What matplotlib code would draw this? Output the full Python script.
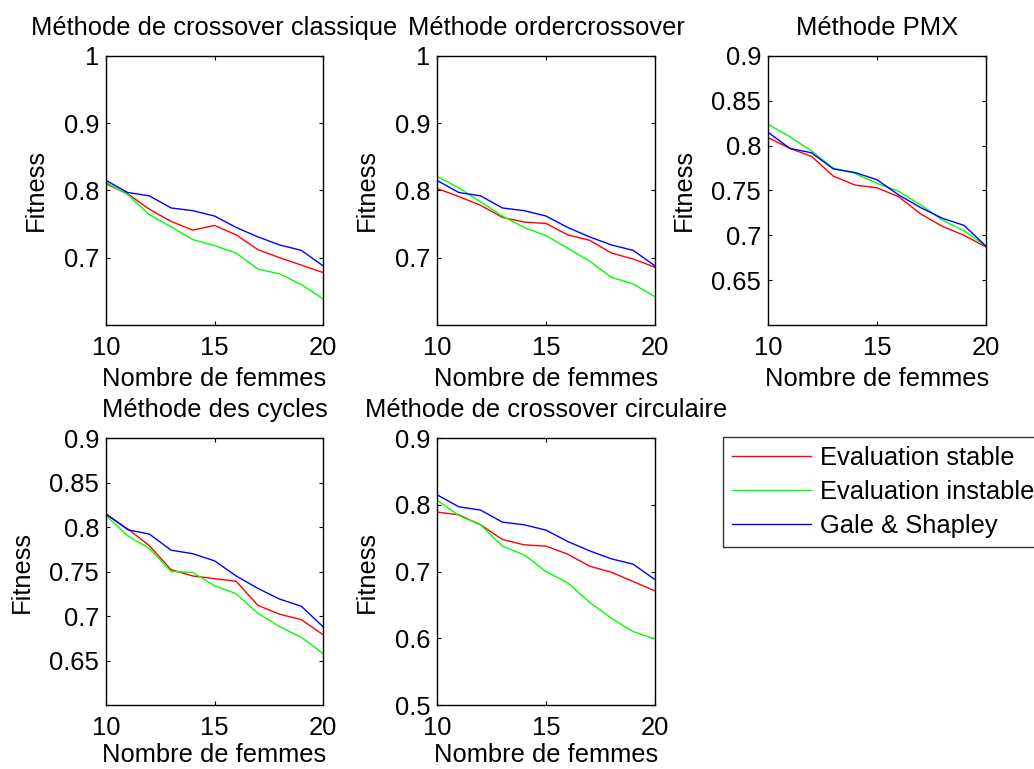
import numpy as np
import matplotlib.pyplot as plt
from matplotlib.ticker import FormatStrFormatter

plt.rcParams['font.family'] = ['Liberation Sans', 'DejaVu Sans']

# Nombre de femmes
nb_femmes = np.arange(10, 21)

# Gale & Shapley (identique pour toutes les méthodes)
gale_shapley = [0.815, 0.797, 0.792, 0.774, 0.770, 0.762, 0.745, 0.731, 0.719, 0.711, 0.688]

# Evaluation stable / instable par méthode
stable_classique = [0.810, 0.795, 0.772, 0.754, 0.741, 0.748, 0.734, 0.712, 0.700, 0.689, 0.678]
instable_classique = [0.812, 0.794, 0.764, 0.746, 0.727, 0.718, 0.707, 0.683, 0.676, 0.660, 0.639]

stable_order = [0.803, 0.791, 0.778, 0.760, 0.753, 0.751, 0.734, 0.726, 0.707, 0.698, 0.686]
instable_order = [0.821, 0.804, 0.783, 0.762, 0.745, 0.733, 0.714, 0.695, 0.671, 0.661, 0.642]

stable_pmx = [0.809, 0.797, 0.788, 0.766, 0.756, 0.753, 0.743, 0.724, 0.710, 0.700, 0.687]
instable_pmx = [0.824, 0.810, 0.794, 0.775, 0.769, 0.758, 0.749, 0.734, 0.717, 0.705, 0.688]

stable_cycles = [0.814, 0.798, 0.779, 0.752, 0.745, 0.742, 0.739, 0.712, 0.702, 0.696, 0.679]
instable_cycles = [0.813, 0.790, 0.776, 0.750, 0.749, 0.734, 0.725, 0.703, 0.688, 0.676, 0.658]

stable_circ = [0.789, 0.785, 0.770, 0.748, 0.740, 0.738, 0.726, 0.708, 0.699, 0.685, 0.671]
instable_circ = [0.807, 0.784, 0.770, 0.738, 0.725, 0.700, 0.683, 0.654, 0.630, 0.610, 0.599]

titres = ['Méthode de crossover classique', 'Méthode ordercrossover', 'Méthode PMX',
          'Méthode des cycles', 'Méthode de crossover circulaire']
stables = [stable_classique, stable_order, stable_pmx, stable_cycles, stable_circ]
instables = [instable_classique, instable_order, instable_pmx, instable_cycles, instable_circ]
ylims = [(0.6, 1.0), (0.6, 1.0), (0.6, 0.9), (0.6, 0.9), (0.5, 0.9)]
yticks = [[0.7, 0.8, 0.9, 1.0], [0.7, 0.8, 0.9, 1.0],
          [0.65, 0.7, 0.75, 0.8, 0.85, 0.9], [0.65, 0.7, 0.75, 0.8, 0.85, 0.9],
          [0.5, 0.6, 0.7, 0.8, 0.9]]

# positions des axes (left, bottom, width, height)
positions = [
    [0.1025, 0.5774, 0.2099, 0.3498],
    [0.4226, 0.5774, 0.2108, 0.3498],
    [0.7427, 0.5774, 0.2108, 0.3498],
    [0.1025, 0.0832, 0.2099, 0.3472],
    [0.4226, 0.0832, 0.2108, 0.3472],
]

fs = 18.4
fig = plt.figure(figsize=(10.34, 7.69), dpi=100)

for i in range(5):
    ax = fig.add_axes(positions[i])
    l1, = ax.plot(nb_femmes, stables[i], color='#ff0000', lw=1, label='Evaluation stable')
    l2, = ax.plot(nb_femmes, instables[i], color='#00ff00', lw=1, label='Evaluation instable')
    l3, = ax.plot(nb_femmes, gale_shapley, color='#0000ff', lw=1, label='Gale & Shapley')
    ax.set_xlim(10, 20)
    ax.set_ylim(*ylims[i])
    ax.set_xticks([10, 15, 20])
    ax.set_yticks(yticks[i])
    ax.yaxis.set_major_formatter(FormatStrFormatter('%g'))
    ax.tick_params(direction='in', length=3, width=0.8, labelsize=fs,
                   top=True, right=True)
    ax.tick_params(axis='x', pad=8)
    ax.tick_params(axis='y', pad=5)
    for s in ax.spines.values():
        s.set_linewidth(1)
    ax.set_title(titres[i], fontsize=fs, pad=15)
    # ligne du bas : label un peu remonté pour rester dans la figure
    ax.set_xlabel('Nombre de femmes', fontsize=fs, labelpad=5 if i < 3 else 2)
    ax.set_ylabel('Fitness', fontsize=fs, labelpad=11)

leg = fig.legend([l1, l2, l3], ['Evaluation stable', 'Evaluation instable', 'Gale & Shapley'],
                 loc='upper left', bbox_to_anchor=(723 / 1034, 1 - 437 / 769),
                 fontsize=fs, fancybox=False, handlelength=3.1, handletextpad=0.35,
                 borderpad=0.34, labelspacing=0.4, borderaxespad=0)
leg.get_frame().set_edgecolor('black')
leg.get_frame().set_linewidth(1)

fig.savefig('out.png', dpi=100)
